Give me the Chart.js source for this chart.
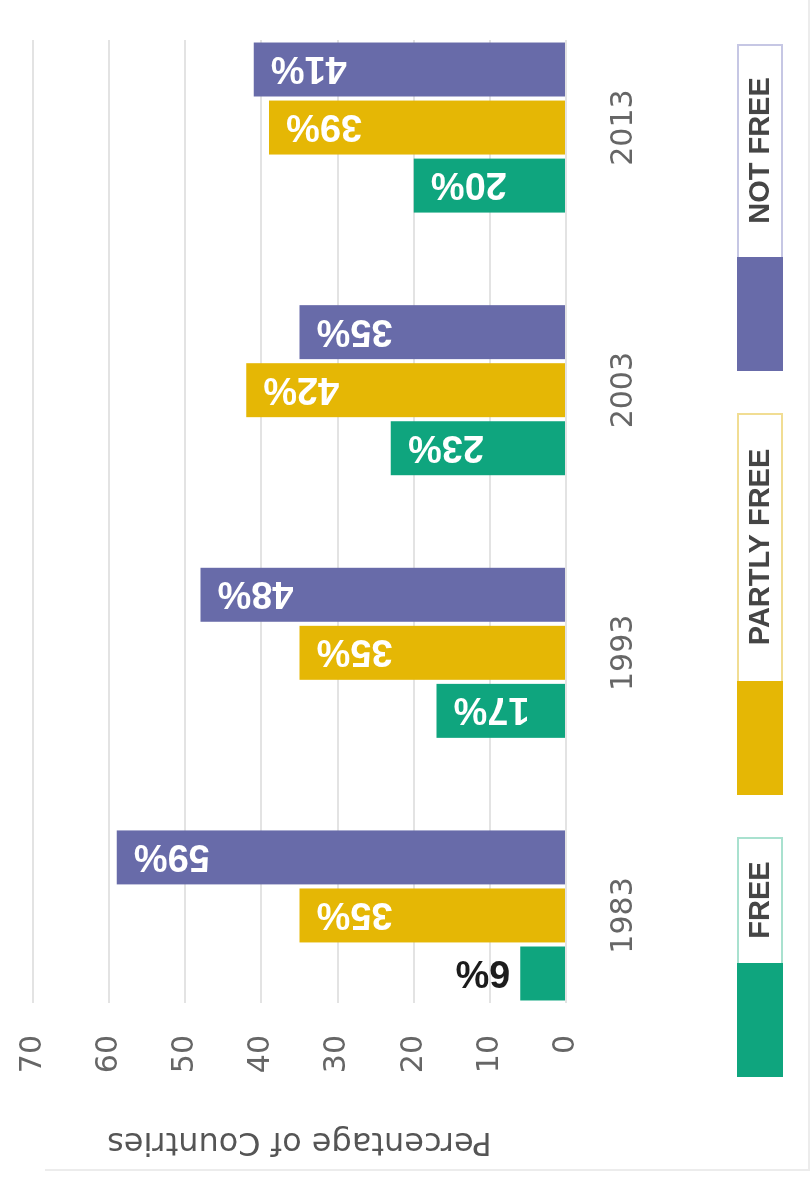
<!DOCTYPE html>
<html>
<head>
<meta charset="utf-8">
<script src="https://cdn.jsdelivr.net/npm/chart.js@4.4.1/dist/chart.umd.min.js"></script>
<style>
  html, body { margin: 0; padding: 0; background: #ffffff; overflow: hidden; width: 811px; height: 1179px; }
  #wrap { position: absolute; left: 0; top: 0; width: 1179px; height: 811px;
          transform-origin: 0 0; transform: translate(0px, 1179px) rotate(-90deg); background: #ffffff; }
  #frame { position: absolute; left: 8px; top: 45px; width: 1171px; height: 765px; box-sizing: border-box;
           border-left: 2px solid #ececec; border-bottom: 2px solid #ececec; }
  canvas { position: absolute; left: 0; top: 0; }
</style>
</head>
<body>
<div id="wrap"><div id="frame"></div><canvas id="c" width="1179" height="811"></canvas></div>
<script>
// ---- data ----
const years = [1983, 1993, 2003, 2013];
const seriesNames = ['FREE', 'PARTLY FREE', 'NOT FREE'];
const freeValues = [6, 17, 23, 20];
const partlyFreeValues = [35, 35, 42, 39];
const notFreeValues = [59, 48, 35, 41];
const valueTicks = [0, 10, 20, 30, 40, 50, 60, 70];
const axisTitle = 'Percentage of Countries';

// ---- styles ----
const colors = ['#0fa57e', '#e5b705', '#686ba9'];
const legendBorders = ['#a9e1cf', '#f1dd93', '#c6c7e4'];

Chart.defaults.font.family = '"DejaVu Sans", sans-serif';

const barLabels = {
  id: 'barLabels',
  afterDatasetsDraw(chart) {
    const ctx = chart.ctx;
    ctx.save();
    ctx.font = 'bold 38px "Liberation Sans", Arial, sans-serif';
    ctx.textBaseline = 'middle';
    chart.data.datasets.forEach((ds, di) => {
      const meta = chart.getDatasetMeta(di);
      meta.data.forEach((bar, i) => {
        const txt = ds.data[i] + '%';
        const w = ctx.measureText(txt).width;
        const len = bar.base - bar.y;
        ctx.save();
        if (w + 30 <= len) {
          ctx.translate(bar.x, bar.y + 17);
          ctx.rotate(-Math.PI / 2);
          ctx.textAlign = 'right';
          ctx.fillStyle = '#ffffff';
        } else {
          ctx.translate(bar.x, bar.y - 10);
          ctx.rotate(-Math.PI / 2);
          ctx.textAlign = 'left';
          ctx.fillStyle = '#1c1c1c';
        }
        ctx.fillText(txt, 0, 2);
        ctx.restore();
      });
    });
    ctx.restore();
  }
};

const legendBoxes = {
  id: 'legendBoxes',
  afterDraw(chart, args, opts) {
    const ctx = chart.ctx;
    ctx.save();
    let x = opts.left;
    const y = opts.top, h = opts.height;
    chart.data.datasets.forEach((ds, i) => {
      const bw = opts.boxWidths[i];
      ctx.fillStyle = '#ffffff';
      ctx.fillRect(x, y, opts.swatch + bw, h);
      ctx.strokeStyle = ds.legendBorder;
      ctx.lineWidth = 2;
      ctx.strokeRect(x + 1, y + 1, opts.swatch + bw - 2, h - 2);
      ctx.fillStyle = ds.backgroundColor;
      ctx.fillRect(x, y, opts.swatch, h);
      ctx.fillStyle = '#454545';
      ctx.font = opts.font;
      ctx.textAlign = 'center';
      ctx.textBaseline = 'middle';
      ctx.fillText(ds.label, x + opts.swatch + bw / 2, y + h / 2 + 1);
      x += opts.swatch + bw + opts.gap;
    });
    ctx.restore();
  }
};

const pitch = years[1] - years[0];

new Chart(document.getElementById('c'), {
  type: 'bar',
  data: {
    labels: years,
    datasets: [
      { label: seriesNames[0], data: freeValues, backgroundColor: colors[0], legendBorder: legendBorders[0] },
      { label: seriesNames[1], data: partlyFreeValues, backgroundColor: colors[1], legendBorder: legendBorders[1] },
      { label: seriesNames[2], data: notFreeValues, backgroundColor: colors[2], legendBorder: legendBorders[2] }
    ]
  },
  options: {
    responsive: false,
    animation: false,
    devicePixelRatio: 1,
    categoryPercentage: 0.663,
    barPercentage: 0.93,
    layout: { padding: { left: 14, right: 40, top: 33, bottom: 177 } },
    plugins: {
      legend: { display: false },
      tooltip: { enabled: false },
      legendBoxes: { left: 102, top: 737, height: 46, swatch: 114, boxWidths: [126, 268, 213], gap: 42,
                     font: 'bold 29px "Liberation Sans", Arial, sans-serif' }
    },
    scales: {
      x: {
        type: 'linear',
        offset: false,
        min: years[0] - pitch / 3,
        max: years[years.length - 1] + pitch / 3,
        afterBuildTicks: s => { s.ticks = years.map(v => ({ value: v })); },
        afterFit: s => { s.height = 68; s.paddingLeft = 0; s.paddingRight = 0; },
        grid: { display: false, offset: false },
        border: { display: false },
        ticks: { callback: v => String(v), padding: 32, color: '#666666', maxRotation: 0, autoSkip: false,
                 font: { family: '"DejaVu Sans", sans-serif', size: 30 } }
      },
      y: {
        min: valueTicks[0],
        max: valueTicks[valueTicks.length - 1],
        afterBuildTicks: s => { s.ticks = valueTicks.map(v => ({ value: v })); },
        afterFit: s => { s.width = 162; s.paddingTop = 0; s.paddingBottom = 0; },
        grid: { color: '#e3e3e3', lineWidth: 2, drawTicks: false },
        border: { display: false },
        ticks: { padding: 32, color: '#666666', font: { family: '"DejaVu Sans", sans-serif', size: 30 } },
        title: { display: true, text: axisTitle, color: '#555555', padding: { top: 4, bottom: 0 },
                 font: { family: '"DejaVu Sans", sans-serif', size: 32 } }
      }
    }
  },
  plugins: [barLabels, legendBoxes]
});
</script>
</body>
</html>
